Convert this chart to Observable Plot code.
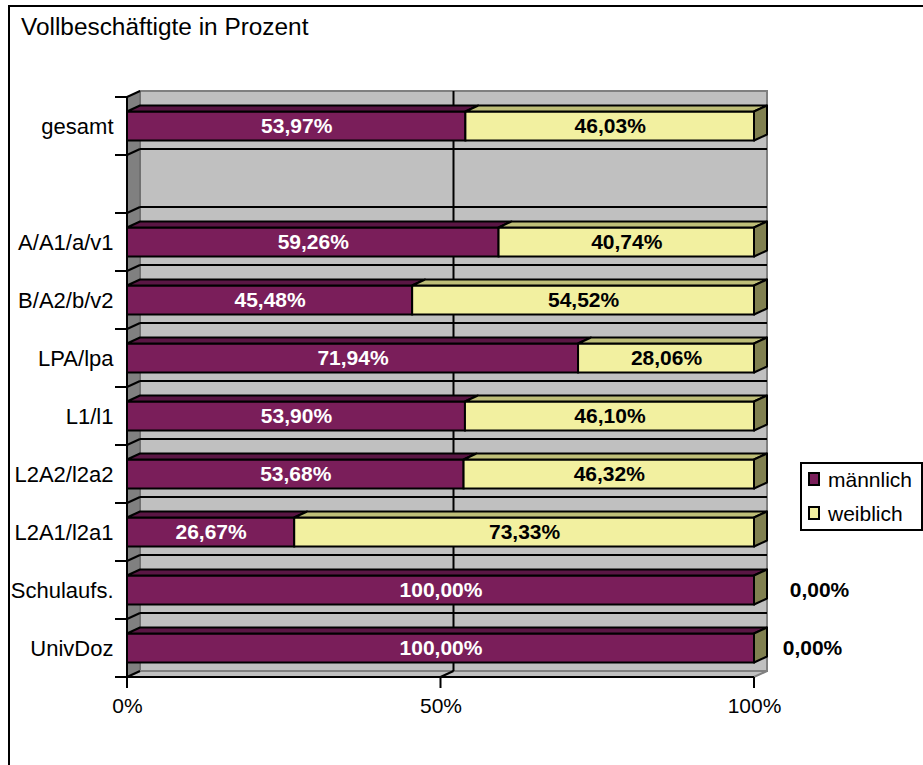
<!DOCTYPE html>
<html>
<head>
<meta charset="utf-8">
<script src="https://cdn.jsdelivr.net/npm/d3@7"></script>
<script src="https://cdn.jsdelivr.net/npm/@observablehq/plot@0.6"></script>
<style>
html, body { margin: 0; padding: 0; overflow: hidden; background: #fff; width: 923px; height: 765px; }
body { position: relative; font-family: "Liberation Sans", Arial, sans-serif; color: #000; }
#frame { position: absolute; left: 8px; top: 5px; width: 1000px; height: 1000px; border: 2px solid #000; box-sizing: border-box; }
#title { position: absolute; left: 21px; top: 13px; font-size: 24.4px; line-height: 1.15; white-space: nowrap; }
#chart { position: absolute; left: 0; top: 0; }
#legend { position: absolute; left: 800px; top: 462px; width: 123px; height: 69px; border: 2px solid #000; box-sizing: border-box; background: #fff; }
#legend .sw { position: absolute; left: 6px; width: 12px; height: 14px; border: 2px solid #000; box-sizing: border-box; }
#legend .lab { position: absolute; left: 26px; font-size: 21px; line-height: 24px; white-space: nowrap; }
</style>
</head>
<body>
<div id="frame"></div>
<div id="title">Vollbeschäftigte in Prozent</div>
<div id="chart"></div>
<div id="legend"></div>
<script>
// ---- data ----
const categories = ["gesamt", "", "A/A1/a/v1", "B/A2/b/v2", "LPA/lpa", "L1/l1", "L2A2/l2a2", "L2A1/l2a1", "Schulaufs.", "UnivDoz"];
const maennlich = [53.97, null, 59.26, 45.48, 71.94, 53.90, 53.68, 26.67, 100.00, 100.00];
const weiblich  = [46.03, null, 40.74, 54.52, 28.06, 46.10, 46.32, 73.33, 0.00, 0.00];
const seriesNames = ["männlich", "weiblich"];
const xTicks = [0, 50, 100];

// ---- styles ----
const frontColors = ["#7A1E5A", "#F2F0A0"];
const topColors = ["#5A1644", "#BEBE78"];
const sideColors = ["#5A1644", "#808050"];
const D = {dx: 13, dy: -6};
const inset = 14.5;

// ---- derived tables ----
const rows = [];
const labelRows = [];
categories.forEach((c, i) => {
  if (maennlich[i] == null) return;
  const m = maennlich[i], w = weiblich[i];
  rows.push({cat: c, series: seriesNames[0], x1: 0, x2: m});
  if (w > 0) rows.push({cat: c, series: seriesNames[1], x1: m, x2: m + w});
  labelRows.push({cat: c, series: seriesNames[0], v: m, x: m / 2, outside: false});
  labelRows.push({cat: c, series: seriesNames[1], v: w, x: w > 0 ? m + w / 2 : m + w, outside: !(w > 0)});
});
const fmt = v => v.toFixed(2).replace(".", ",") + "%";

function geom(scales) {
  const sx = scales.x, sy = scales.y;
  const bw = sy.bandwidth ? sy.bandwidth() : (sy(categories[1]) - sy(categories[0]));
  const xL = sx(0), xR = sx(100);
  const yT = sy(categories[0]);
  const yB = sy(categories[categories.length - 1]) + bw;
  const bounds = categories.map(c => sy(c)).concat([yB]);
  return {sx, sy, bw, xL, xR, yT, yB, bounds};
}

function walls(index, scales) {
  const {sx, xL, xR, yT, yB, bounds} = geom(scales);
  const g = d3.create("svg:g");
  g.append("rect").attr("x", xL + D.dx).attr("y", yT + D.dy).attr("width", xR - xL).attr("height", yB - yT)
    .attr("fill", "#C0C0C0").attr("stroke", "#808080").attr("stroke-width", 2);
  g.append("path").attr("d", `M${xL},${yT}L${xL + D.dx},${yT + D.dy}L${xL + D.dx},${yB + D.dy}L${xL},${yB}Z`)
    .attr("fill", "#808080").attr("stroke", "#606060").attr("stroke-width", 1);
  g.append("path").attr("d", `M${xL},${yB}L${xL + D.dx},${yB + D.dy}L${xR + D.dx},${yB + D.dy}L${xR},${yB}Z`)
    .attr("fill", "#C0C0C0").attr("stroke", "#808080").attr("stroke-width", 2);
  for (const b of bounds.slice(1, -1)) {
    g.append("line").attr("x1", xL + D.dx).attr("x2", xR + D.dx).attr("y1", b + D.dy).attr("y2", b + D.dy)
      .attr("stroke", "#000").attr("stroke-width", 2);
  }
  for (const b of bounds) {
    g.append("line").attr("x1", xL).attr("y1", b).attr("x2", xL + D.dx).attr("y2", b + D.dy)
      .attr("stroke", "#000").attr("stroke-width", 2);
  }
  for (const t of xTicks.slice(1, -1)) {
    const x = sx(t);
    g.append("line").attr("x1", x + D.dx).attr("x2", x + D.dx).attr("y1", yT + D.dy).attr("y2", yB + D.dy)
      .attr("stroke", "#000").attr("stroke-width", 2);
    g.append("line").attr("x1", x).attr("y1", yB).attr("x2", x + D.dx).attr("y2", yB + D.dy)
      .attr("stroke", "#000").attr("stroke-width", 2);
  }
  return g.node();
}

function faces(index, scales) {
  const {sx, sy, bw} = geom(scales);
  const g = d3.create("svg:g").attr("stroke", "#000").attr("stroke-width", 2).attr("stroke-linejoin", "round");
  categories.forEach((c, i) => {
    if (maennlich[i] == null) return;
    const yt = sy(c) + inset, yb = sy(c) + bw - inset;
    const segs = [[0, maennlich[i]], [maennlich[i], maennlich[i] + weiblich[i]]];
    segs.forEach(([a, b], k) => {
      if (b - a <= 0) return;
      const X1 = sx(a), X2 = sx(b);
      g.append("path").attr("d", `M${X1},${yt}L${X2},${yt}L${X2 + D.dx},${yt + D.dy}L${X1 + D.dx},${yt + D.dy}Z`)
        .attr("fill", topColors[k]);
    });
    const XE = sx(segs[1][1]);
    g.append("path").attr("d", `M${XE},${yt}L${XE + D.dx},${yt + D.dy}L${XE + D.dx},${yb + D.dy}L${XE},${yb}Z`)
      .attr("fill", sideColors[1]);
  });
  return g.node();
}

function axes(index, scales) {
  const {sx, xL, xR, yT, yB, bounds} = geom(scales);
  const g = d3.create("svg:g").attr("stroke", "#000").attr("stroke-width", 2);
  g.append("line").attr("x1", xL).attr("x2", xL).attr("y1", yT).attr("y2", yB);
  for (const b of bounds) g.append("line").attr("x1", xL - 12).attr("x2", xL).attr("y1", b).attr("y2", b);
  g.append("line").attr("x1", xL).attr("x2", xR).attr("y1", yB).attr("y2", yB);
  for (const t of xTicks) g.append("line").attr("x1", sx(t)).attr("x2", sx(t)).attr("y1", yB).attr("y2", yB + 11);
  return g.node();
}

const textStyle = {fontSize: 21, fontWeight: "bold"};

const chart = Plot.plot({
  width: 923,
  height: 765,
  marginLeft: 127,
  marginRight: 169,
  marginTop: 97,
  marginBottom: 88,
  x: {domain: [0, 100], axis: null},
  y: {type: "band", domain: categories, padding: 0, round: false, axis: null},
  color: {domain: seriesNames, range: frontColors},
  style: {background: "transparent", fontFamily: "'Liberation Sans', Arial, sans-serif", fontSize: "21px", overflow: "visible"},
  marks: [
    walls,
    Plot.barX(rows, {x1: "x1", x2: "x2", y: "cat", fill: "series", stroke: "#000", strokeWidth: 2, insetTop: inset, insetBottom: inset}),
    faces,
    axes,
    Plot.text(labelRows.filter(d => d.series === seriesNames[0]), {x: "x", y: "cat", text: d => fmt(d.v), fill: "#fff", ...textStyle}),
    Plot.text(labelRows.filter(d => d.series === seriesNames[1] && !d.outside), {x: "x", y: "cat", text: d => fmt(d.v), fill: "#000", ...textStyle}),
    Plot.text(labelRows.filter(d => d.outside && d.cat === "Schulaufs."), {x: "x", y: "cat", text: d => fmt(d.v), fill: "#000", dx: 65, ...textStyle}),
    Plot.text(labelRows.filter(d => d.outside && d.cat === "UnivDoz"), {x: "x", y: "cat", text: d => fmt(d.v), fill: "#000", dx: 58, ...textStyle}),
    Plot.text(categories.filter(c => c !== ""), {x: () => 0, y: d => d, text: d => d, textAnchor: "end", dx: -14, fill: "#000", fontSize: 22}),
    Plot.text(xTicks, {x: d => d, frameAnchor: "bottom", lineAnchor: "middle", dy: 29, text: d => d + "%", fill: "#000", fontSize: 21})
  ]
});
document.getElementById("chart").appendChild(chart);

// ---- legend ----
const legend = document.getElementById("legend");
const swTops = [8, 42];
const labTops = [4, 38];
seriesNames.forEach((name, i) => {
  const sw = document.createElement("div");
  sw.className = "sw";
  sw.style.top = swTops[i] + "px";
  sw.style.background = frontColors[i];
  legend.appendChild(sw);
  const lab = document.createElement("div");
  lab.className = "lab";
  lab.style.top = labTops[i] + "px";
  lab.textContent = name;
  legend.appendChild(lab);
});
</script>
</body>
</html>
